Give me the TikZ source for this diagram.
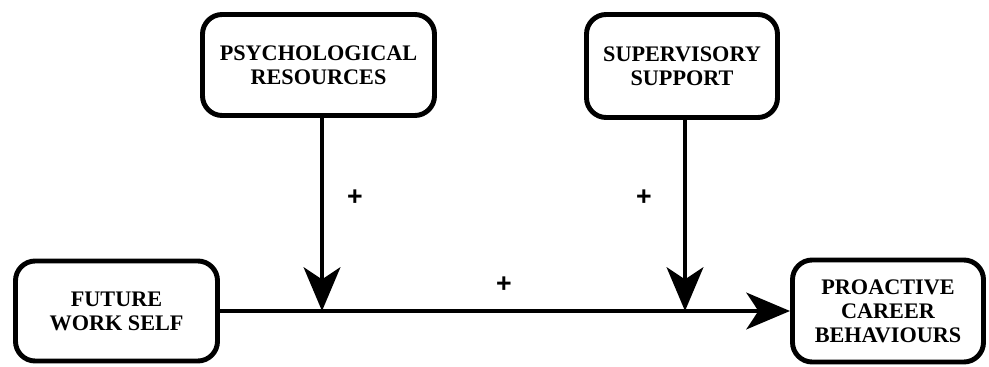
\documentclass[tikz,border=0pt]{standalone}
\usepackage{fontspec}
\setmainfont{Liberation Serif}
\newfontfamily\signfont{Liberation Sans}
\usepackage{tikz}
\usetikzlibrary{arrows.meta}

\begin{document}
\begin{tikzpicture}[
        box/.style={draw, line width=3.5pt, rounded corners=14pt, align=center,
            font=\fontsize{15.8}{17}\selectfont\bfseries, inner sep=0pt},
        arrow/.style={line width=3.5pt, -{Stealth[length=31pt, width=26pt, inset=8.5pt]}},
        sign/.style={font=\signfont\fontsize{19}{21}\selectfont\bfseries, inner sep=0pt}
    ]
        \useasboundingbox (0, 0) rectangle (24.725, 9.175);

        \node[box, minimum width=5.8cm, minimum height=2.525cm] at (7.9625, 7.55) (psy) {PSYCHOLOGICAL\\RESOURCES};
        \node[box, minimum width=4.775cm, minimum height=2.575cm] at (17.05, 7.525) (sup) {SUPERVISORY\\SUPPORT};
        \node[box, minimum width=5.05cm, minimum height=2.5cm] at (2.9125, 1.4) (fws) {FUTURE\\WORK SELF};
        \node[box, minimum width=4.775cm, minimum height=2.55cm] at (22.2, 1.4) (pcb) {PROACTIVE\\CAREER\\BEHAVIOURS};

        \coordinate (m1) at (8.05, 1.4);
        \coordinate (m2) at (17.125, 1.4);

        \node[sign] at (8.875, 4.225) (s1) {+};
        \node[sign] at (16.1, 4.225) (s2) {+};
        \node[sign] at (12.6, 2.05) (s3) {+};

        \draw[arrow] (fws) -- (pcb);
        \draw[arrow] (psy.south -| m1) -- (m1);
        \draw[arrow] (sup.south -| m2) -- (m2);
    \end{tikzpicture}
\end{document}
